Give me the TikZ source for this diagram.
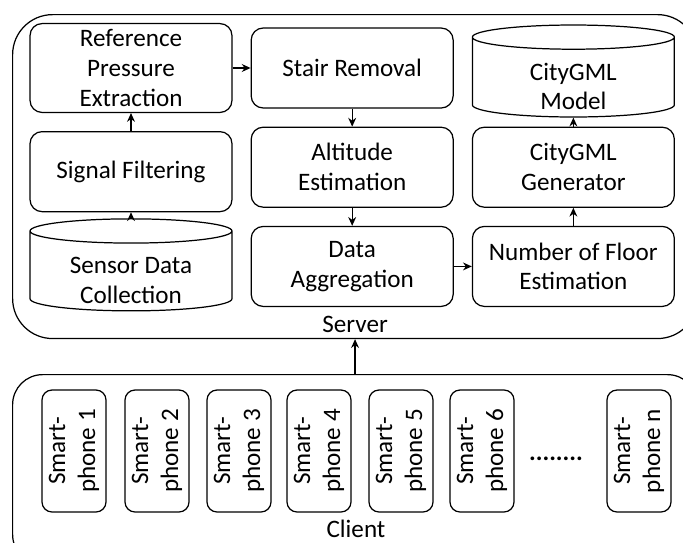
\documentclass[tikz,border=0pt]{standalone}
\usepackage{fontspec}
\setmainfont{Carlito}
\usetikzlibrary{positioning,arrows.meta,shapes.geometric}
\tikzset{
	flow/.style={>={Stealth[length=5pt,width=4.5pt]},line width=0.7pt,
		node distance=0.36cm and 0.36cm,
		every node/.style={font=\fontsize{14.3pt}{17pt}\selectfont}},
	block/.style={rectangle,draw,rounded corners=0.24cm,minimum width=4.04cm,
		minimum height=1.6cm,align=center},
	store/.style={cylinder,draw,shape border rotate=90,aspect=0.12,text width=3.8cm,
		minimum width=4.04cm,minimum height=1.84cm},
	storetext/.style={align=center,yshift=-0.14cm},
	phone/.style={rectangle,draw,rounded corners=0.2cm,rotate=90,
		minimum width=2.44cm,minimum height=1.28cm,align=center},
	group/.style={draw,rounded corners=0.8cm,anchor=north west}
}

\begin{document}
\begin{tikzpicture}[flow,x=0.02cm,y=-0.02cm]
	\useasboundingbox (0,0) rectangle (683,542);
	
	\node[group,minimum width=13.7cm,minimum height=6.48cm] (server) at (12,14) {};
	\node[group,minimum width=13.7cm,minimum height=3.8cm,rounded corners=0.6cm] (client) at (12,374) {};
	\node (srvlabel) [above=0pt of server.south] {Server};
	\node (clientlabel) at (356,529) {Client};
	
	\node[block] (ref) at (131,68) {Reference\\Pressure\\Extraction};
	\node[block] (stair) [right= of ref] {Stair Removal};
	\node[block] (signal) [below= of ref] {Signal Filtering};
	\node[block] (alt) [below= of stair] {Altitude\\Estimation};
	\node[block] (gen) [right= of alt] {CityGML\\Generator};
	\node[store] (model) [above=0.18cm of gen] {};
	\node[storetext] (modeltext) at (model.center) {CityGML\\Model};
	\node[store] (sensor) [below=0.12cm of signal] {};
	\node[storetext] (sensortext) at (sensor.center) {Sensor Data\\Collection};
	\node[block] (agg) [below= of alt] {Data\\Aggregation};
	\node[block] (floor) [below= of gen] {Number of Floor\\Estimation};
	
	\foreach \x/\n [count=\i] in {74/1,157/2,239/3,319/4,401/5,482/6,639/n}
		\node[phone] (phone\i) at (\x,451) {Smart-\\phone \n};
	\node (dots) at (556,459) {\textbf{........}};
	
	\path[->] (ref) edge (stair);
	\path[->] (stair) edge (alt);
	\path[->] (alt) edge (agg);
	\path[->] (agg) edge (floor);
	\path[->] (floor) edge (gen);
	\path[->] (gen) edge (model);
	\path[->] (sensor) edge (signal);
	\path[->] (signal) edge (ref);
	\path[->] (client.north) edge (server.south);
\end{tikzpicture}
\end{document}
